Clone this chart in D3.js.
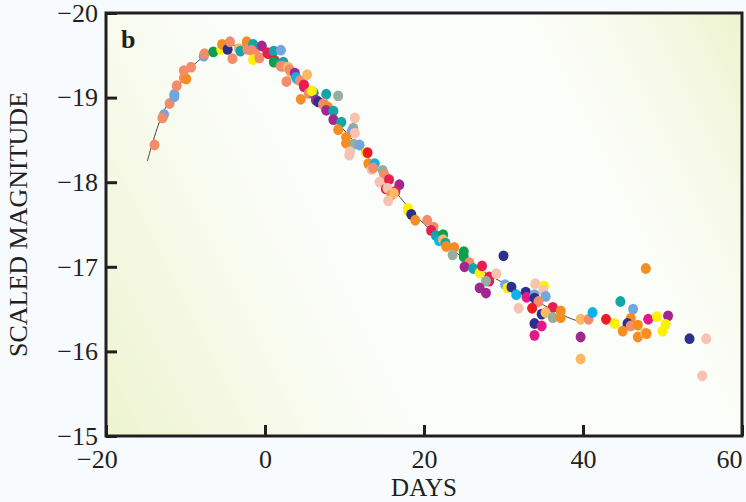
<!DOCTYPE html>
<html>
<head>
<meta charset="utf-8">
<script src="https://cdn.jsdelivr.net/npm/d3@7"></script>
<style>
  body { margin: 0; background: #f8fbfd; }
  text { font-family: "Liberation Serif", "Times New Roman", serif; fill: #231f20; }
</style>
</head>
<body>
<div id="chart"></div>
<script>
// light curve points: day, scaled magnitude, colour group
let days = [-13.9,-12.7,-12.9,-12.0,-11.4,-11.4,-11.1,-10.2,-9.9,-10.2,-9.3,-7.7,-7.6,-6.5,-5.5,-5.4,-4.7,-4.4,-4.1,-3.3,
  -3.1,-2.3,-2.2,-1.5,-1.7,-1.25,-1.5,-0.4,-0.7,0.3,0.4,1.1,2.0,1.2,1.1,1.9,2.3,2.0,2.3,3.3,
  2.9,3.1,2.7,3.75,4.0,3.9,4.4,5.3,4.9,4.9,4.5,5.5,6.1,6.1,5.9,6.4,6.7,7.7,9.2,7.3,
  7.4,7.9,7.7,8.6,8.6,9.6,11.3,9.2,11.1,10.9,11.3,10.2,10.2,11.2,10.6,10.7,11.9,12.7,12.9,13.0,
  13.8,13.4,13.6,14.8,15.0,15.1,14.4,15.6,16.9,16.4,15.2,15.4,15.9,16.2,15.5,18.0,18.0,18.4,18.9,20.4,
  21.2,20.9,21.5,22.4,21.9,22.4,22.7,22.8,23.8,23.6,25.0,25.0,30.0,25.7,25.1,26.2,27.0,27.3,28.2,28.2,
  29.1,27.8,27.0,27.8,30.2,30.5,31.0,31.6,32.8,32.9,34.0,35.1,35.0,33.9,35.3,33.9,34.4,31.9,33.6,36.2,
  34.8,35.3,37.2,36.2,37.2,33.9,34.8,33.9,39.7,40.7,41.2,39.7,39.7,42.9,44.0,44.7,46.3,46.0,45.6,46.0,
  46.9,45.0,46.9,47.8,48.0,47.9,48.2,49.3,50.7,50.4,50.0,53.4,55.5,55.0];
let mags = [-18.44,-18.80,-18.76,-18.93,-19.01,-19.04,-19.14,-19.23,-19.22,-19.32,-19.36,-19.49,-19.52,-19.54,-19.57,-19.63,-19.57,-19.66,-19.46,-19.58,
  -19.55,-19.66,-19.57,-19.63,-19.56,-19.52,-19.45,-19.61,-19.47,-19.53,-19.52,-19.55,-19.56,-19.44,-19.42,-19.39,-19.42,-19.37,-19.37,-19.29,
  -19.36,-19.33,-19.19,-19.29,-19.22,-19.24,-19.20,-19.27,-19.13,-19.15,-18.98,-19.05,-19.05,-19.06,-19.08,-18.97,-18.95,-19.04,-19.02,-18.92,
  -18.93,-18.89,-18.85,-18.84,-18.74,-18.71,-18.76,-18.62,-18.64,-18.60,-18.58,-18.53,-18.46,-18.45,-18.32,-18.36,-18.44,-18.35,-18.35,-18.22,
  -18.22,-18.15,-18.17,-18.14,-18.09,-18.06,-18.00,-18.03,-17.97,-17.89,-17.92,-17.93,-17.85,-17.87,-17.78,-17.69,-17.66,-17.62,-17.55,-17.55,
  -17.47,-17.43,-17.37,-17.38,-17.31,-17.32,-17.28,-17.24,-17.23,-17.14,-17.18,-17.12,-17.13,-17.05,-17.00,-16.98,-16.93,-17.01,-16.88,-16.83,
  -16.92,-16.83,-16.75,-16.69,-16.79,-16.75,-16.76,-16.67,-16.70,-16.64,-16.80,-16.77,-16.72,-16.67,-16.65,-16.63,-16.59,-16.51,-16.51,-16.52,
  -16.44,-16.46,-16.48,-16.40,-16.40,-16.33,-16.30,-16.19,-16.38,-16.38,-16.46,-16.17,-15.91,-16.38,-16.33,-16.59,-16.50,-16.39,-16.33,-16.30,
  -16.31,-16.24,-16.17,-16.22,-16.21,-16.98,-16.38,-16.41,-16.42,-16.32,-16.24,-16.15,-16.15,-15.71];
let groups = [0,1,0,0,1,1,0,0,2,0,0,1,0,3,8,2,4,0,0,12,
  5,2,0,5,0,0,8,6,0,7,7,5,1,7,3,5,5,0,0,12,
  12,0,0,6,1,9,0,12,6,7,2,0,7,5,8,6,4,5,10,0,
  0,2,6,5,6,5,11,2,10,1,11,2,2,10,11,11,1,8,13,2,
  9,11,0,10,0,0,11,7,6,7,7,11,2,12,11,8,8,4,2,0,
  0,7,5,3,9,12,5,2,2,10,3,3,4,0,6,5,8,7,7,7,
  11,10,6,6,1,8,4,9,4,14,11,8,11,1,1,4,0,11,13,7,
  4,12,2,10,2,4,14,14,12,0,9,6,12,13,8,5,1,2,4,0,
  2,2,2,12,2,2,14,8,6,8,8,4,11,11];

let palette = ["#f28c69", "#72a6de", "#f48d22", "#0da04c", "#2b2f8e", "#12a6aa", "#a2288f", "#e81d52",
  "#fff000", "#0cb0ec", "#96ad9f", "#f7c3b1", "#f8ba64", "#ec1c26", "#e4178b"];

// template curve
let curveDays = [-14.8,-13,-11,-9,-7,-5,-3,-1,1,3,5,7,9,11,13,15,17,19,21,23,25,27,29,31,33,35,37,39,40];
let curveMags = [-18.25,-18.78,-19.12,-19.38,-19.53,-19.6,-19.62,-19.58,-19.48,-19.33,-19.15,-18.95,-18.72,-18.5,-18.28,-18.05,-17.82,-17.6,-17.42,-17.25,-17.1,-16.97,-16.86,-16.76,-16.65,-16.55,-16.45,-16.37,-16.35];

let xTicks = [-20, 0, 20, 40, 60];
let yTicks = [-20, -19, -18, -17, -16, -15];

let width = 746,
  height = 502,
  mLeft = 106, mRight = 742, mTop = 13, mBottom = 436;

let svg = d3.select("#chart")
  .append("svg")
  .attr("width", width)
  .attr("height", height);

let x = d3.scaleLinear().domain([-20, 60]).range([mLeft, mRight]);
let y = d3.scaleLinear().domain([-20, -15]).range([mTop, mBottom]);

// background gradient inside the frame
let grad = svg.append("defs").append("linearGradient")
  .attr("id", "bg")
  .attr("gradientUnits", "userSpaceOnUse")
  .attr("x1", 84).attr("y1", 395)
  .attr("x2", 764).attr("y2", 55);
[[0, "#edf4cf"], [0.22, "#f7faea"], [0.38, "#fbfdfb"], [0.75, "#fbfdf8"], [0.88, "#f6f9e7"], [1, "#edf3cd"]].forEach(s => {
  grad.append("stop").attr("offset", s[0]).attr("stop-color", s[1]);
});

svg.append("rect")
  .attr("x", mLeft).attr("y", mTop)
  .attr("width", mRight - mLeft).attr("height", mBottom - mTop)
  .attr("fill", "url(#bg)");

// template curve
let line = d3.line()
  .x(d => x(d[0]))
  .y(d => y(d[1]))
  .curve(d3.curveCatmullRom);

svg.append("path")
  .datum(d3.zip(curveDays, curveMags))
  .attr("d", line)
  .attr("fill", "none")
  .attr("stroke", "#444")
  .attr("stroke-width", 1);

// points
svg.append("g")
  .selectAll("ellipse")
  .data(d3.range(days.length))
  .join("ellipse")
  .attr("cx", i => x(days[i]))
  .attr("cy", i => y(mags[i]))
  .attr("rx", 5)
  .attr("ry", 5.4)
  .attr("fill", i => palette[groups[i]]);

// axes
let xAxis = svg.append("g")
  .attr("transform", `translate(0,${mBottom})`)
  .call(d3.axisBottom(x).tickValues(xTicks).tickSizeInner(-11).tickSizeOuter(0).tickPadding(14)
    .tickFormat(d => d < 0 ? "\u2212" + Math.abs(d) : d));
xAxis.select(".domain").remove();
xAxis.selectAll("line").attr("stroke", "#231f20").attr("stroke-width", 3);
xAxis.selectAll("text")
  .attr("font-size", 26).attr("font-family", null)
  .attr("dx", d => d < 0 ? "-0.35em" : d == 60 ? "-0.5em" : 0);

let yAxis = svg.append("g")
  .attr("transform", `translate(${mLeft},0)`)
  .call(d3.axisLeft(y).tickValues(yTicks).tickSizeInner(-11).tickSizeOuter(0).tickPadding(8)
    .tickFormat(d => "\u2212" + Math.abs(d)));
yAxis.select(".domain").remove();
yAxis.selectAll("line").attr("stroke", "#231f20").attr("stroke-width", 3);
yAxis.selectAll("text").attr("font-size", 26).attr("font-family", null);

// frame
svg.append("rect")
  .attr("x", mLeft).attr("y", mTop)
  .attr("width", mRight - mLeft).attr("height", mBottom - mTop)
  .attr("fill", "none")
  .attr("stroke", "#231f20")
  .attr("stroke-width", 3);

svg.append("text")
  .text("b")
  .attr("x", 121)
  .attr("y", 48)
  .attr("font-size", 26)
  .attr("font-weight", "bold");

svg.append("text")
  .text("DAYS")
  .attr("x", (mLeft + mRight) / 2)
  .attr("y", 496)
  .attr("text-anchor", "middle")
  .attr("font-size", 25);

svg.append("text")
  .text("SCALED MAGNITUDE")
  .attr("transform", `translate(27,${(mTop + mBottom) / 2}) rotate(-90)`)
  .attr("text-anchor", "middle")
  .attr("font-size", 26);
</script>
</body>
</html>
